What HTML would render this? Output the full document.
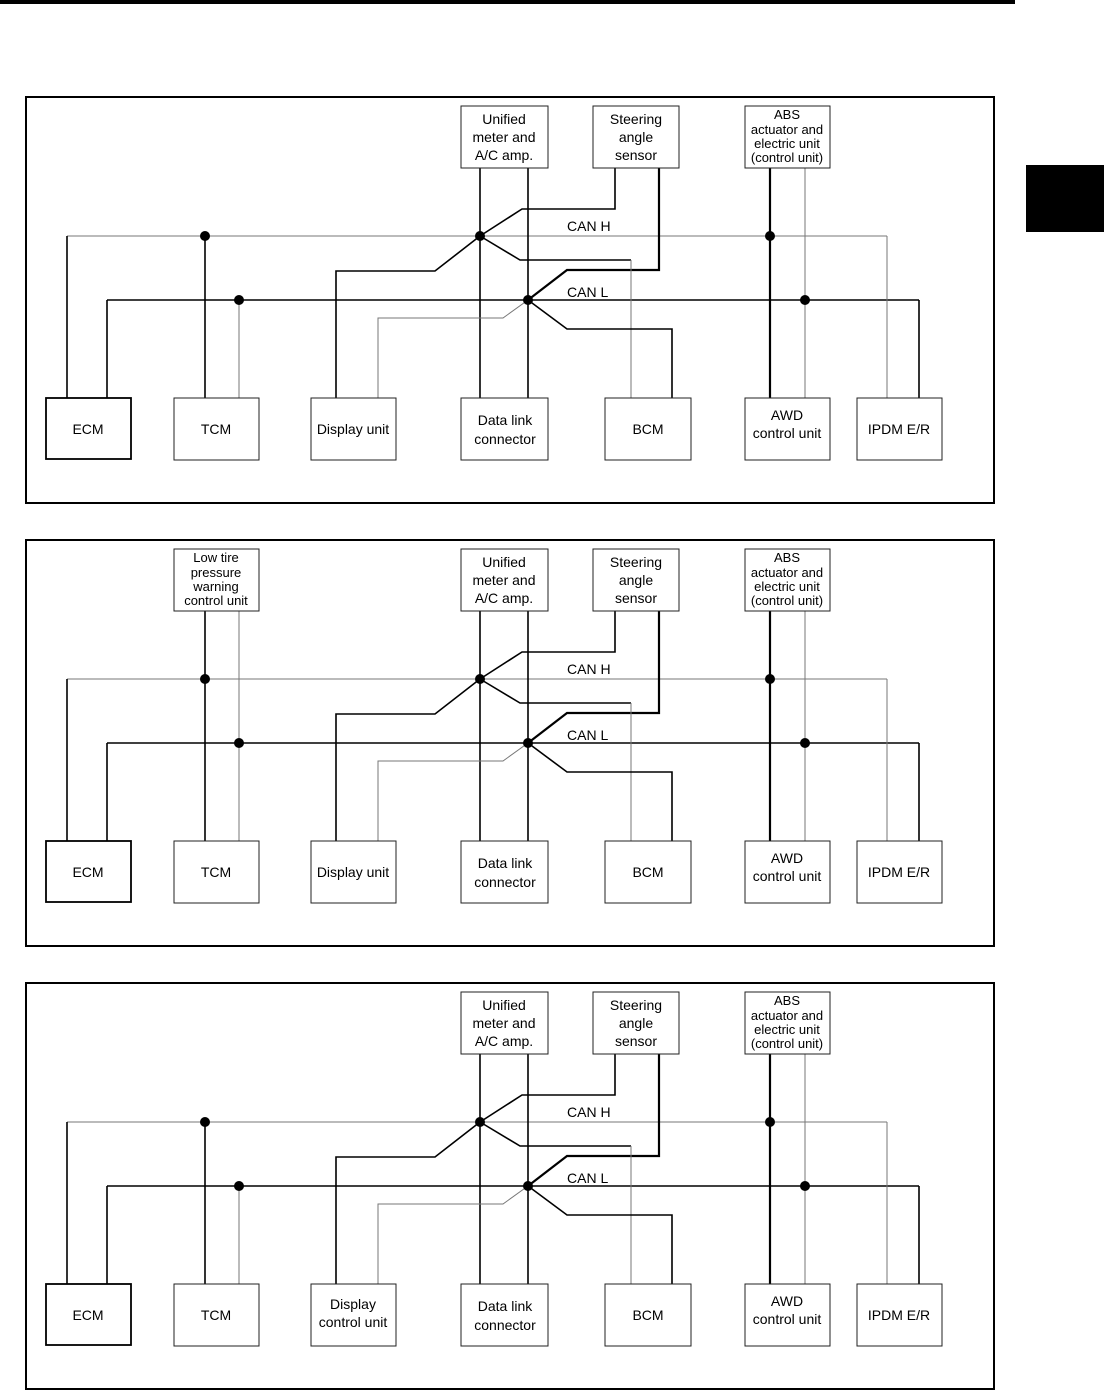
<!DOCTYPE html>
<html><head><meta charset="utf-8"><style>
html,body{margin:0;padding:0;background:#fff}
svg{display:block}
text{font-family:"Liberation Sans",Arial,sans-serif;font-size:14px;fill:#000}
.b{fill:#fff;stroke:#222;stroke-width:1}
.k{stroke:#000;stroke-width:1.6;fill:none}
.kk{stroke:#000;stroke-width:2.2;fill:none}
.g{stroke:#777;stroke-width:1;fill:none}
</style></head><body>
<svg width="1104" height="1391" viewBox="0 0 1104 1391" xmlns="http://www.w3.org/2000/svg">
<rect x="0" y="0" width="1015" height="4" fill="#000"/>
<rect x="1026" y="165" width="78" height="67" fill="#000"/>

<!-- Diagram 1 -->
<g transform="translate(0,0)">
<rect x="26" y="97" width="968" height="406" fill="none" stroke="#000" stroke-width="2"/>
<line class="g" x1="67" y1="236" x2="887" y2="236"/>
<line class="k" x1="107" y1="300" x2="919" y2="300"/>
<polyline class="k" points="67,398 67,236"/>
<polyline class="k" points="107,398 107,300"/>
<line class="k" x1="205" y1="236" x2="205" y2="398"/>
<line class="g" x1="239" y1="300" x2="239" y2="398"/>
<line class="k" x1="480" y1="168" x2="480" y2="398"/>
<line class="k" x1="528" y1="168" x2="528" y2="398"/>
<polyline class="k" points="615,168 615,209 522,209 480,236"/>
<polyline class="kk" points="659,168 659,270 567,270 528,300"/>
<polyline class="k" points="480,236 520,260 631,260"/>
<line class="g" x1="631" y1="260" x2="631" y2="398"/>
<polyline class="k" points="528,300 567,329 672,329 672,398"/>
<polyline class="k" points="336,398 336,271 435,271 480,236"/>
<polyline class="g" points="378,398 378,318 503,318 528,300"/>
<line class="kk" x1="770" y1="168" x2="770" y2="398"/>
<line class="g" x1="805" y1="168" x2="805" y2="398"/>
<polyline class="g" points="887,236 887,398"/>
<polyline class="k" points="919,300 919,398"/>
<circle cx="205" cy="236" r="5"/><circle cx="480" cy="236" r="5"/><circle cx="770" cy="236" r="5"/>
<circle cx="239" cy="300" r="5"/><circle cx="528" cy="300" r="5"/><circle cx="805" cy="300" r="5"/>
<text x="567" y="231">CAN H</text><text x="567" y="297">CAN L</text>
<rect class="b" x="461" y="106" width="87" height="62"/>
<text x="504" y="124" text-anchor="middle">Unified</text><text x="504" y="142" text-anchor="middle">meter and</text><text x="504" y="160" text-anchor="middle">A/C amp.</text>
<rect class="b" x="593" y="106" width="86" height="62"/>
<text x="636" y="124" text-anchor="middle">Steering</text><text x="636" y="142" text-anchor="middle">angle</text><text x="636" y="160" text-anchor="middle">sensor</text>
<rect class="b" x="745" y="106" width="85" height="62"/>
<text x="787" y="119" text-anchor="middle" style="font-size:13px">ABS</text><text x="787" y="134" text-anchor="middle" style="font-size:13px">actuator and</text><text x="787" y="148" text-anchor="middle" style="font-size:13px">electric unit</text><text x="787" y="162" text-anchor="middle" style="font-size:13px">(control unit)</text>
<rect x="46" y="398" width="85" height="61" fill="#fff" stroke="#000" stroke-width="1.8"/>
<text x="88" y="434" text-anchor="middle">ECM</text>
<rect class="b" x="174" y="398" width="85" height="62"/><text x="216" y="434" text-anchor="middle">TCM</text>
<rect class="b" x="311" y="398" width="85" height="62"/><text x="353" y="434" text-anchor="middle">Display unit</text>
<rect class="b" x="461" y="398" width="87" height="62"/><text x="505" y="425" text-anchor="middle">Data link</text><text x="505" y="444" text-anchor="middle">connector</text>
<rect class="b" x="605" y="398" width="86" height="62"/><text x="648" y="434" text-anchor="middle">BCM</text>
<rect class="b" x="745" y="398" width="85" height="62"/><text x="787" y="420" text-anchor="middle">AWD</text><text x="787" y="438" text-anchor="middle">control unit</text>
<rect class="b" x="857" y="398" width="85" height="62"/><text x="899" y="434" text-anchor="middle">IPDM E/R</text>
</g>

<!-- Diagram 2 -->
<g transform="translate(0,443)">
<rect x="26" y="97" width="968" height="406" fill="none" stroke="#000" stroke-width="2"/>
<line class="g" x1="67" y1="236" x2="887" y2="236"/>
<line class="k" x1="107" y1="300" x2="919" y2="300"/>
<polyline class="k" points="67,398 67,236"/>
<polyline class="k" points="107,398 107,300"/>
<line class="k" x1="205" y1="168" x2="205" y2="398"/>
<line class="g" x1="239" y1="168" x2="239" y2="398"/>
<line class="k" x1="480" y1="168" x2="480" y2="398"/>
<line class="k" x1="528" y1="168" x2="528" y2="398"/>
<polyline class="k" points="615,168 615,209 522,209 480,236"/>
<polyline class="kk" points="659,168 659,270 567,270 528,300"/>
<polyline class="k" points="480,236 520,260 631,260"/>
<line class="g" x1="631" y1="260" x2="631" y2="398"/>
<polyline class="k" points="528,300 567,329 672,329 672,398"/>
<polyline class="k" points="336,398 336,271 435,271 480,236"/>
<polyline class="g" points="378,398 378,318 503,318 528,300"/>
<line class="kk" x1="770" y1="168" x2="770" y2="398"/>
<line class="g" x1="805" y1="168" x2="805" y2="398"/>
<polyline class="g" points="887,236 887,398"/>
<polyline class="k" points="919,300 919,398"/>
<circle cx="205" cy="236" r="5"/><circle cx="480" cy="236" r="5"/><circle cx="770" cy="236" r="5"/>
<circle cx="239" cy="300" r="5"/><circle cx="528" cy="300" r="5"/><circle cx="805" cy="300" r="5"/>
<text x="567" y="231">CAN H</text><text x="567" y="297">CAN L</text>
<rect class="b" x="174" y="106" width="85" height="62"/>
<text x="216" y="119" text-anchor="middle" style="font-size:13px">Low tire</text><text x="216" y="134" text-anchor="middle" style="font-size:13px">pressure</text><text x="216" y="148" text-anchor="middle" style="font-size:13px">warning</text><text x="216" y="162" text-anchor="middle" style="font-size:13px">control unit</text>
<rect class="b" x="461" y="106" width="87" height="62"/>
<text x="504" y="124" text-anchor="middle">Unified</text><text x="504" y="142" text-anchor="middle">meter and</text><text x="504" y="160" text-anchor="middle">A/C amp.</text>
<rect class="b" x="593" y="106" width="86" height="62"/>
<text x="636" y="124" text-anchor="middle">Steering</text><text x="636" y="142" text-anchor="middle">angle</text><text x="636" y="160" text-anchor="middle">sensor</text>
<rect class="b" x="745" y="106" width="85" height="62"/>
<text x="787" y="119" text-anchor="middle" style="font-size:13px">ABS</text><text x="787" y="134" text-anchor="middle" style="font-size:13px">actuator and</text><text x="787" y="148" text-anchor="middle" style="font-size:13px">electric unit</text><text x="787" y="162" text-anchor="middle" style="font-size:13px">(control unit)</text>
<rect x="46" y="398" width="85" height="61" fill="#fff" stroke="#000" stroke-width="1.8"/>
<text x="88" y="434" text-anchor="middle">ECM</text>
<rect class="b" x="174" y="398" width="85" height="62"/><text x="216" y="434" text-anchor="middle">TCM</text>
<rect class="b" x="311" y="398" width="85" height="62"/><text x="353" y="434" text-anchor="middle">Display unit</text>
<rect class="b" x="461" y="398" width="87" height="62"/><text x="505" y="425" text-anchor="middle">Data link</text><text x="505" y="444" text-anchor="middle">connector</text>
<rect class="b" x="605" y="398" width="86" height="62"/><text x="648" y="434" text-anchor="middle">BCM</text>
<rect class="b" x="745" y="398" width="85" height="62"/><text x="787" y="420" text-anchor="middle">AWD</text><text x="787" y="438" text-anchor="middle">control unit</text>
<rect class="b" x="857" y="398" width="85" height="62"/><text x="899" y="434" text-anchor="middle">IPDM E/R</text>
</g>

<!-- Diagram 3 -->
<g transform="translate(0,886)">
<rect x="26" y="97" width="968" height="406" fill="none" stroke="#000" stroke-width="2"/>
<line class="g" x1="67" y1="236" x2="887" y2="236"/>
<line class="k" x1="107" y1="300" x2="919" y2="300"/>
<polyline class="k" points="67,398 67,236"/>
<polyline class="k" points="107,398 107,300"/>
<line class="k" x1="205" y1="236" x2="205" y2="398"/>
<line class="g" x1="239" y1="300" x2="239" y2="398"/>
<line class="k" x1="480" y1="168" x2="480" y2="398"/>
<line class="k" x1="528" y1="168" x2="528" y2="398"/>
<polyline class="k" points="615,168 615,209 522,209 480,236"/>
<polyline class="kk" points="659,168 659,270 567,270 528,300"/>
<polyline class="k" points="480,236 520,260 631,260"/>
<line class="g" x1="631" y1="260" x2="631" y2="398"/>
<polyline class="k" points="528,300 567,329 672,329 672,398"/>
<polyline class="k" points="336,398 336,271 435,271 480,236"/>
<polyline class="g" points="378,398 378,318 503,318 528,300"/>
<line class="kk" x1="770" y1="168" x2="770" y2="398"/>
<line class="g" x1="805" y1="168" x2="805" y2="398"/>
<polyline class="g" points="887,236 887,398"/>
<polyline class="k" points="919,300 919,398"/>
<circle cx="205" cy="236" r="5"/><circle cx="480" cy="236" r="5"/><circle cx="770" cy="236" r="5"/>
<circle cx="239" cy="300" r="5"/><circle cx="528" cy="300" r="5"/><circle cx="805" cy="300" r="5"/>
<text x="567" y="231">CAN H</text><text x="567" y="297">CAN L</text>
<rect class="b" x="461" y="106" width="87" height="62"/>
<text x="504" y="124" text-anchor="middle">Unified</text><text x="504" y="142" text-anchor="middle">meter and</text><text x="504" y="160" text-anchor="middle">A/C amp.</text>
<rect class="b" x="593" y="106" width="86" height="62"/>
<text x="636" y="124" text-anchor="middle">Steering</text><text x="636" y="142" text-anchor="middle">angle</text><text x="636" y="160" text-anchor="middle">sensor</text>
<rect class="b" x="745" y="106" width="85" height="62"/>
<text x="787" y="119" text-anchor="middle" style="font-size:13px">ABS</text><text x="787" y="134" text-anchor="middle" style="font-size:13px">actuator and</text><text x="787" y="148" text-anchor="middle" style="font-size:13px">electric unit</text><text x="787" y="162" text-anchor="middle" style="font-size:13px">(control unit)</text>
<rect x="46" y="398" width="85" height="61" fill="#fff" stroke="#000" stroke-width="1.8"/>
<text x="88" y="434" text-anchor="middle">ECM</text>
<rect class="b" x="174" y="398" width="85" height="62"/><text x="216" y="434" text-anchor="middle">TCM</text>
<rect class="b" x="311" y="398" width="85" height="62"/><text x="353" y="423" text-anchor="middle">Display</text><text x="353" y="441" text-anchor="middle">control unit</text>
<rect class="b" x="461" y="398" width="87" height="62"/><text x="505" y="425" text-anchor="middle">Data link</text><text x="505" y="444" text-anchor="middle">connector</text>
<rect class="b" x="605" y="398" width="86" height="62"/><text x="648" y="434" text-anchor="middle">BCM</text>
<rect class="b" x="745" y="398" width="85" height="62"/><text x="787" y="420" text-anchor="middle">AWD</text><text x="787" y="438" text-anchor="middle">control unit</text>
<rect class="b" x="857" y="398" width="85" height="62"/><text x="899" y="434" text-anchor="middle">IPDM E/R</text>
</g>
</svg>
</body></html>
